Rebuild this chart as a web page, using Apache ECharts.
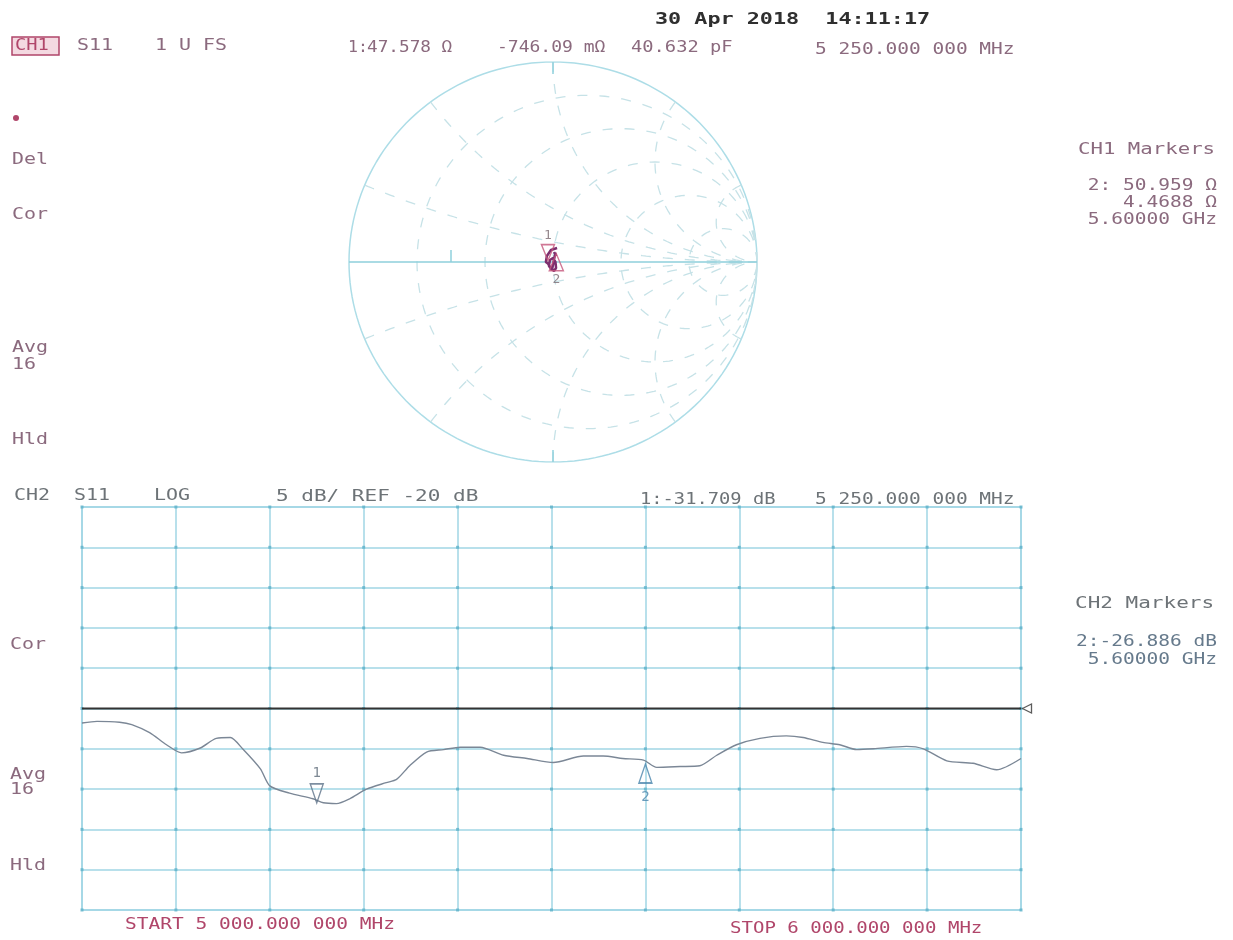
<!DOCTYPE html>
<html><head><meta charset="utf-8">
<script src="https://cdn.jsdelivr.net/npm/echarts@6/dist/echarts.min.js"></script>
<style>html,body{margin:0;padding:0;background:#fff}#c{width:1233px;height:940px}</style>
</head><body><div id="c"></div>
<script>
// ---------------- data ----------------
// CH2 S11 log magnitude trace
const FREQ_MHZ = [5000, 5016, 5040, 5053, 5072, 5090, 5106, 5126, 5143, 5158, 5171, 5190, 5200, 5221, 5246, 5257, 5271, 5285, 5303, 5324, 5335, 5349, 5367, 5385, 5403, 5424, 5449, 5474, 5502, 5534, 5555, 5576, 5598, 5612, 5637, 5658, 5676, 5697, 5722, 5750, 5768, 5789, 5807, 5825, 5843, 5878, 5896, 5921, 5949, 5974, 6000];
const S11_DB = [-21.8, -21.6, -21.7, -22.0, -23.0, -24.5, -25.5, -24.9, -23.7, -23.6, -25.0, -27.5, -29.6, -30.5, -31.2, -31.7, -31.8, -31.2, -30.0, -29.2, -28.8, -27.1, -25.4, -25.1, -24.8, -24.8, -25.8, -26.2, -26.7, -25.9, -25.9, -26.2, -26.4, -27.3, -27.2, -27.1, -25.8, -24.5, -23.7, -23.4, -23.6, -24.2, -24.5, -25.1, -25.0, -24.7, -25.0, -26.5, -26.8, -27.6, -26.2];
const REF_LEVEL_DB = -20;
const DB_MIN = -45, DB_MAX = 5, DB_STEP = 5;
const F_START = 5000, F_STOP = 6000, F_STEP = 100;
// markers
const MARKER_NAMES = ['1', '2'];
const MARKER_FREQ = [5250, 5600];
const MARKER_DB = [-31.709, -26.886];
const MARKER_R_OHM = [47.578, 50.959];
const MARKER_X_OHM = [-0.74609, 4.4688];
const Z0 = 50;
// CH1 Smith chart: graticule values and the small trace near the centre
const SMITH_R = [0.2, 0.5, 1, 2, 5];
const SMITH_X = [0.2, 0.5, 1, 2, 5];
const SMITH_TRACE_RE = [0.02, -0.01, -0.03, -0.035, -0.025, -0.01, 0.005, 0.015, 0.012, 0.0, -0.015, -0.02, -0.005, 0.011, 0.015, 0.005];
const SMITH_TRACE_IM = [0.07, 0.06, 0.03, 0.0, -0.008, -0.03, -0.045, -0.03, 0.0, 0.02, 0.01, -0.02, -0.04, 0.044, 0.03, 0.05];

// ---------------- styles ----------------
const FONT = 'DejaVu Sans Mono';
const MAUVE = '#8b6a7e', CRIMSON = '#b0466a', GRAY2 = '#6d7377', BLUEGRAY = '#667a8c';
const GRID_C = '#a0d6e5', SMITH_C = '#addde7', SMITH_DASH = '#c6e2e7';

// ---------------- geometry helpers ----------------
function gammaOf(r, x) { const d = (r + 1) * (r + 1) + x * x; return [(r * r + x * x - 1) / d, 2 * x / d]; }
function rCircle(r) {
  const c = r / (1 + r), rad = 1 / (1 + r), pts = [];
  for (let i = 0; i <= 180; i++) { const a = i / 180 * 2 * Math.PI; pts.push([c + rad * Math.cos(a), rad * Math.sin(a)]); }
  return pts;
}
function xArc(x) {
  const pts = [];
  for (let i = 0; i <= 200; i++) { const t = i / 200 * 0.997; pts.push(gammaOf(t / (1 - t), x)); }
  return pts;
}
let rData = []; SMITH_R.forEach(r => { rData = rData.concat(rCircle(r)); rData.push(null); });
let xData = []; SMITH_X.forEach(x => { xData = xData.concat(xArc(x)); xData.push(null); xData = xData.concat(xArc(-x)); xData.push(null); });
const outer = rCircle(0);
const smithTrace = SMITH_TRACE_RE.map((v, i) => [v, SMITH_TRACE_IM[i]]);
const smithMarkers = MARKER_R_OHM.map((r, i) => gammaOf(r / Z0, MARKER_X_OHM[i] / Z0));
const trace = FREQ_MHZ.map((f, i) => [f, S11_DB[i]]);
const dots = [];
for (let f = F_START; f <= F_STOP; f += F_STEP) for (let d = DB_MIN; d <= DB_MAX; d += DB_STEP) dots.push([f, d]);

const DOWN_TRI = 'path://M0,0 L12,0 L6,18 Z';
const UP_TRI = 'path://M6,0 L12,18 L0,18 Z';

// ---------------- texts ----------------
function T(x, y, s, color, o) {
  o = o || {};
  return { type: 'text', x: x, y: y, scaleX: o.sx || 1.33, silent: true, z: 100,
    style: { text: s, fill: color, fontFamily: FONT, fontSize: o.fs || 15, fontWeight: o.fw || 'normal',
      align: o.align || 'left', textAlign: o.align || 'left', verticalAlign: 'middle', textVerticalAlign: 'middle' } };
}
const graphics = [
  T(655, 20, '30 Apr 2018  14:11:17', '#2f2f2f', { fs: 16, fw: 'bold', sx: 1.36 }),
  { type: 'rect', shape: { x: 12, y: 37, width: 47, height: 18 }, style: { fill: '#f4d9e1', stroke: CRIMSON, lineWidth: 1.5 }, z: 99, silent: true },
  T(15, 46, 'CH1', CRIMSON, { sx: 1.25 }),
  T(77, 46, 'S11', MAUVE), T(155, 46, '1 U FS', MAUVE),
  T(348, 48, '1:', MAUVE, { sx: 1.1 }), T(367, 48, '47.578 Ω', MAUVE, { sx: 1.18 }),
  T(497, 48, '-746.09 mΩ', MAUVE, { sx: 1.2 }), T(631, 48, '40.632 pF', MAUVE, { sx: 1.25 }),
  T(815, 50, '5 250.000 000 MHz', MAUVE, { sx: 1.3 }),
  { type: 'circle', shape: { cx: 16, cy: 118, r: 3 }, style: { fill: CRIMSON }, silent: true },
  T(12, 160, 'Del', MAUVE), T(12, 215, 'Cor', MAUVE),
  T(12, 348, 'Avg', MAUVE), T(12, 365, '16', MAUVE), T(12, 440, 'Hld', MAUVE),
  T(1078, 150, 'CH1 Markers', MAUVE, { sx: 1.38 }),
  T(1217, 186, '2: 50.959 Ω', MAUVE, { align: 'right', sx: 1.3 }),
  T(1217, 203, '4.4688 Ω', MAUVE, { align: 'right', sx: 1.3 }),
  T(1217, 220, '5.60000 GHz', MAUVE, { align: 'right', sx: 1.3 }),
  T(14, 496, 'CH2', GRAY2), T(74, 496, 'S11', GRAY2), T(154, 496, 'LOG', GRAY2),
  T(276, 497, '5 dB/ REF -20 dB', GRAY2, { sx: 1.4 }),
  T(640, 500, '1:-31.709 dB', GRAY2, { sx: 1.25 }), T(815, 500, '5 250.000 000 MHz', GRAY2, { sx: 1.3 }),
  T(1075, 604, 'CH2 Markers', GRAY2, { sx: 1.4 }),
  T(1217, 642, '2:-26.886 dB', BLUEGRAY, { align: 'right', sx: 1.3 }),
  T(1217, 660, '5.60000 GHz', BLUEGRAY, { align: 'right', sx: 1.3 }),
  T(10, 645, 'Cor', MAUVE), T(10, 775, 'Avg', MAUVE), T(10, 790, '16', MAUVE), T(10, 866, 'Hld', MAUVE),
  T(125, 925, 'START 5 000.000 000 MHz', CRIMSON, { sx: 1.3 }),
  T(730, 929, 'STOP 6 000.000 000 MHz', CRIMSON, { sx: 1.27 })
];

const hidden = { axisLabel: { show: false }, axisTick: { show: false }, axisLine: { show: false }, splitLine: { show: false } };
const option = {
  animation: false,
  backgroundColor: '#ffffff',
  textStyle: { fontFamily: FONT },
  grid: [
    { left: 349, top: 62, width: 408, height: 400 },
    { left: 82, top: 507, width: 939, height: 403, show: true, borderColor: GRID_C, borderWidth: 1.5 }
  ],
  xAxis: [
    Object.assign({ gridIndex: 0, type: 'value', min: -1, max: 1 }, hidden),
    { gridIndex: 1, type: 'value', min: F_START, max: F_STOP, interval: F_STEP,
      axisLabel: { show: false }, axisTick: { show: false }, axisLine: { show: false },
      splitLine: { show: true, lineStyle: { color: GRID_C, width: 1.5 } } }
  ],
  yAxis: [
    Object.assign({ gridIndex: 0, type: 'value', min: -1, max: 1 }, hidden),
    { gridIndex: 1, type: 'value', min: DB_MIN, max: DB_MAX, interval: DB_STEP,
      axisLabel: { show: false }, axisTick: { show: false }, axisLine: { show: false },
      splitLine: { show: true, lineStyle: { color: GRID_C, width: 1.5 } } }
  ],
  graphic: graphics,
  series: [
    { type: 'line', xAxisIndex: 0, yAxisIndex: 0, data: outer, showSymbol: false, silent: true,
      lineStyle: { color: SMITH_C, width: 1.5 } },
    { type: 'line', xAxisIndex: 0, yAxisIndex: 0, data: rData, showSymbol: false, silent: true, connectNulls: false,
      lineStyle: { color: SMITH_DASH, width: 1.3, type: [10, 12] } },
    { type: 'line', xAxisIndex: 0, yAxisIndex: 0, data: xData, showSymbol: false, silent: true, connectNulls: false,
      lineStyle: { color: SMITH_DASH, width: 1.3, type: [10, 12] } },
    { type: 'line', xAxisIndex: 0, yAxisIndex: 0, data: [[-1, 0], [1, 0], null, [0, 1], [0, 0.94], null, [0, -1], [0, -0.94], null, [-0.5, 0], [-0.5, 0.06]],
      showSymbol: false, silent: true, connectNulls: false, lineStyle: { color: '#8fd0dc', width: 1.5 } },
    { type: 'line', xAxisIndex: 0, yAxisIndex: 0, data: smithTrace, showSymbol: false, silent: true, z: 5,
      lineStyle: { color: '#7d2f6e', width: 2.5 } },
    { type: 'scatter', xAxisIndex: 0, yAxisIndex: 0, silent: true, z: 6,
      data: [
        { value: smithMarkers[0], symbol: DOWN_TRI, symbolSize: [13, 16], symbolOffset: [0, -11],
          label: { show: true, formatter: MARKER_NAMES[0], position: 'top', distance: 2, color: '#7a6a72', fontSize: 13, fontFamily: FONT } },
        { value: smithMarkers[1], symbol: UP_TRI, symbolSize: [14, 17], symbolOffset: [1, 9],
          label: { show: true, formatter: MARKER_NAMES[1], position: 'bottom', distance: 2, color: '#7a6a72', fontSize: 13, fontFamily: FONT } }
      ],
      itemStyle: { color: 'rgba(255,255,255,0)', borderColor: '#c4557a', borderWidth: 1.5 } },
    { type: 'scatter', xAxisIndex: 1, yAxisIndex: 1, data: dots, symbol: 'rect', symbolSize: 3, silent: true,
      itemStyle: { color: '#5eb2c9' } },
    { type: 'line', xAxisIndex: 1, yAxisIndex: 1, data: [[F_START, REF_LEVEL_DB], [F_STOP, REF_LEVEL_DB]], silent: true, z: 4,
      showSymbol: false, lineStyle: { color: '#333333', width: 2 } },
    { type: 'scatter', xAxisIndex: 1, yAxisIndex: 1, data: [[F_STOP, REF_LEVEL_DB]], silent: true, z: 6,
      symbol: 'path://M0,5 L10,0 L10,10 Z', symbolSize: [9, 9], symbolOffset: [6, 0],
      itemStyle: { color: '#ffffff', borderColor: '#333333', borderWidth: 1.3 } },
    { type: 'line', xAxisIndex: 1, yAxisIndex: 1, data: trace, showSymbol: false, silent: true, z: 5, smooth: 0.25,
      lineStyle: { color: '#7b8796', width: 1.4 } },
    { type: 'scatter', xAxisIndex: 1, yAxisIndex: 1, silent: true, z: 7,
      data: [
        { value: [MARKER_FREQ[0], MARKER_DB[0]], symbol: DOWN_TRI, symbolSize: [13, 19], symbolOffset: [0, -9.5],
          itemStyle: { color: 'rgba(255,255,255,0)', borderColor: '#5d7288', borderWidth: 1.5 },
          label: { show: true, formatter: MARKER_NAMES[0], position: 'top', distance: 3, color: '#5d6a78', fontSize: 14, fontFamily: FONT } },
        { value: [MARKER_FREQ[1], MARKER_DB[1]], symbol: UP_TRI, symbolSize: [13, 19], symbolOffset: [0, 9.5],
          itemStyle: { color: 'rgba(255,255,255,0)', borderColor: '#4a86ad', borderWidth: 1.5 },
          label: { show: true, formatter: MARKER_NAMES[1], position: 'bottom', distance: 6, color: '#4a86ad', fontSize: 14, fontFamily: FONT } }
      ] }
  ]
};
const chart = echarts.init(document.getElementById('c'));
chart.setOption(option);
</script>
</body></html>
